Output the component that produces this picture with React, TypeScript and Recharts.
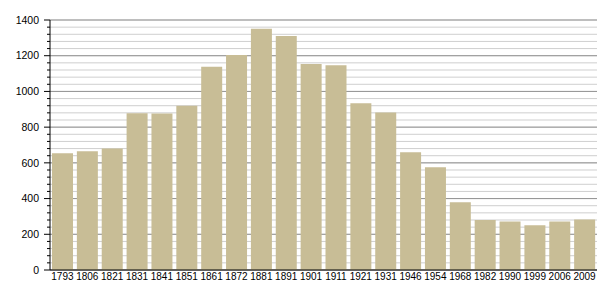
import React from 'react';
import { BarChart, Bar, XAxis, YAxis, CartesianGrid } from 'recharts';

const years = [
  '1793', '1806', '1821', '1831', '1841', '1851', '1861', '1872', '1881', '1891', '1901',
  '1911', '1921', '1931', '1946', '1954', '1968', '1982', '1990', '1999', '2006', '2009',
];
const population = [
  654, 665, 680, 878, 876, 920, 1138, 1204, 1351, 1310, 1153,
  1147, 934, 882, 659, 575, 379, 280, 272, 250, 272, 283,
];
const majorTicks = [0, 200, 400, 600, 800, 1000, 1200, 1400];
const minorTicks = Array.from({ length: 36 }, (_, i) => i * 40);

const data = years.map((year, i) => ({ year, value: population[i] }));

const FONT = '"Liberation Sans", Arial, sans-serif';

const YTick = (props: any) => {
  const { x, y, payload } = props;
  const major = payload.value % 200 === 0;
  return (
    <g>
      <line x1={x - (major ? 6 : 3)} x2={x} y1={y} y2={y} stroke="#000" strokeWidth={1} />
      {major && (
        <text x={x - 11} y={y} dy="0.35em" textAnchor="end" fontSize={10.5} fontFamily={FONT} fill="#000">
          {payload.value}
        </text>
      )}
    </g>
  );
};

const App: React.FC = () => {
  return (
    <div style={{ position: 'absolute', left: 0, top: 0, background: '#fff' }}>
      <BarChart
        width={605}
        height={300}
        data={data}
        margin={{ top: 20, right: 8, bottom: 0, left: 0 }}
        barSize={21}
      >
        <CartesianGrid horizontalValues={minorTicks} vertical={false} stroke="#cfcfcf" strokeWidth={1} />
        <CartesianGrid horizontalValues={majorTicks} vertical={false} stroke="#959595" strokeWidth={1} />
        <XAxis
          dataKey="year"
          interval={0}
          height={30}
          tickLine={false}
          tickSize={0}
          tickMargin={3}
          axisLine={{ stroke: '#000' }}
          tick={{ fontSize: 10, fontFamily: FONT, fill: '#000' }}
        />
        <YAxis
          domain={[0, 1400]}
          ticks={minorTicks}
          interval={0}
          width={50}
          tickLine={false}
          tickSize={0}
          tickMargin={0}
          axisLine={{ stroke: '#000' }}
          tick={<YTick />}
        />
        <Bar dataKey="value" fill="#c8bd96" isAnimationActive={false} />
      </BarChart>
    </div>
  );
};

export default App;
